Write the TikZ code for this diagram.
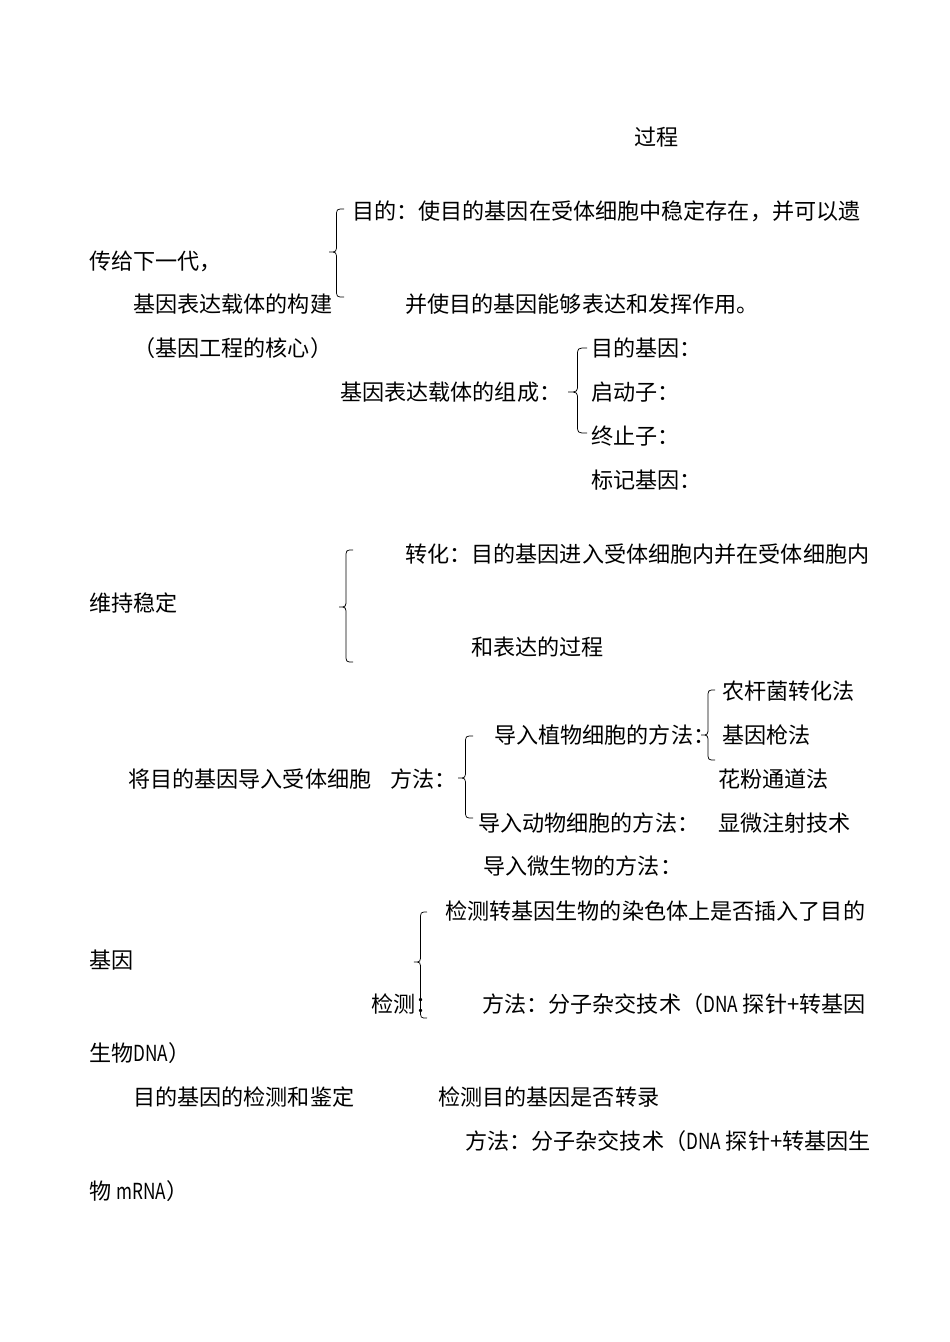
\documentclass[tikz,border=0pt]{standalone}
\usepackage{fontspec}
\newfontfamily\cjk{Noto Sans CJK SC}[Scale=1.0]
\newcommand\nar[1]{\scalebox{0.78}[1]{#1}}
\tikzset{
  t/.style={anchor=west, inner sep=0pt, font=\cjk\fontsize{22.1}{22.1}\selectfont},
  brc/.style={draw=black, line width=0.75pt}
}
\newcommand\lbr[5]{% xe, ytop, ybot, xtip, ytip
  \draw[brc] (#1,#2) .. controls ({(#1+#4)/2},#2) .. ({(#1+#4)/2},{#2+8})
    -- ({(#1+#4)/2},{#5-8}) .. controls ({(#1+#4)/2},#5) .. (#4,#5)
    .. controls ({(#1+#4)/2},#5) .. ({(#1+#4)/2},{#5+8})
    -- ({(#1+#4)/2},{#3-8}) .. controls ({(#1+#4)/2},#3) .. (#1,#3);}
\begin{document}
\begin{tikzpicture}[x=1pt,y=-1pt]
\useasboundingbox[fill=white] (0,0) rectangle (950,1342);
% section 1
\node[t] (guocheng) at (634,137) {过程};
\node[t] (mudi) at (352,211) {目的：使目的基因在受体细胞中稳定存在，并可以遗};
\node[t] (chuan) at (89,261) {传给下一代，};
\node[t] (goujian) at (133,304) {基因表达载体的构建};
\node[t] (bingshi) at (405,304) {并使目的基因能够表达和发挥作用。};
\node[t] (hexin) at (133,348) {（基因工程的核心）};
\lbr{344}{209}{297}{329}{252}
\node[t] (zucheng) at (340,392) {基因表达载体的组成：};
\node[t] (mdjy) at (591,348) {目的基因：};
\node[t] (qdz) at (591,392) {启动子：};
\node[t] (zzz) at (591,436) {终止子：};
\node[t] (bjjy) at (591,480) {标记基因：};
\lbr{587}{348}{433}{568}{392}
% section 2
\node[t] (zhuanhua) at (405,554) {转化：目的基因进入受体细胞内并在受体细胞内};
\node[t] (weichi) at (89,603) {维持稳定};
\node[t] (hebiao) at (471,647) {和表达的过程};
\lbr{353}{550}{662}{339}{607}
\node[t] (ngj) at (722,691) {农杆菌转化法};
\node[t] (zhiwu) at (494,735) {导入植物细胞的方法：};
\node[t] (jyq) at (722,735) {基因枪法};
\lbr{715}{690}{760}{701}{735}
\node[t] (daoru) at (128,779) {将目的基因导入受体细胞};
\node[t] (fangfa) at (390,779) {方法：};
\node[t] (hftd) at (718,779) {花粉通道法};
\lbr{473}{736}{818}{458}{778}
\node[t] (dongwu) at (478,823) {导入动物细胞的方法：};
\node[t] (xwzs) at (718,823) {显微注射技术};
\node[t] (wsw) at (483,866) {导入微生物的方法：};
% section 3
\node[t] (jcz) at (445,911) {检测转基因生物的染色体上是否插入了目的};
\node[t] (jiyin) at (89,960) {基因};
\node[t] (jiance) at (371,1004) {检测：};
\node[t] (ff1) at (482,1004) {方法：分子杂交技术（\nar{DNA} 探针+转基因};
\lbr{427}{912}{1018}{414}{962}
\node[t] (swdna) at (89,1053) {生物\nar{DNA}）};
\node[t] (jdjd) at (133,1097) {目的基因的检测和鉴定};
\node[t] (zhuanlu) at (438,1097) {检测目的基因是否转录};
\node[t] (ff2) at (465,1141) {方法：分子杂交技术（\nar{DNA} 探针+转基因生};
\node[t] (wmrna) at (89,1191) {物 \nar{mRNA}）};
\end{tikzpicture}
\end{document}
